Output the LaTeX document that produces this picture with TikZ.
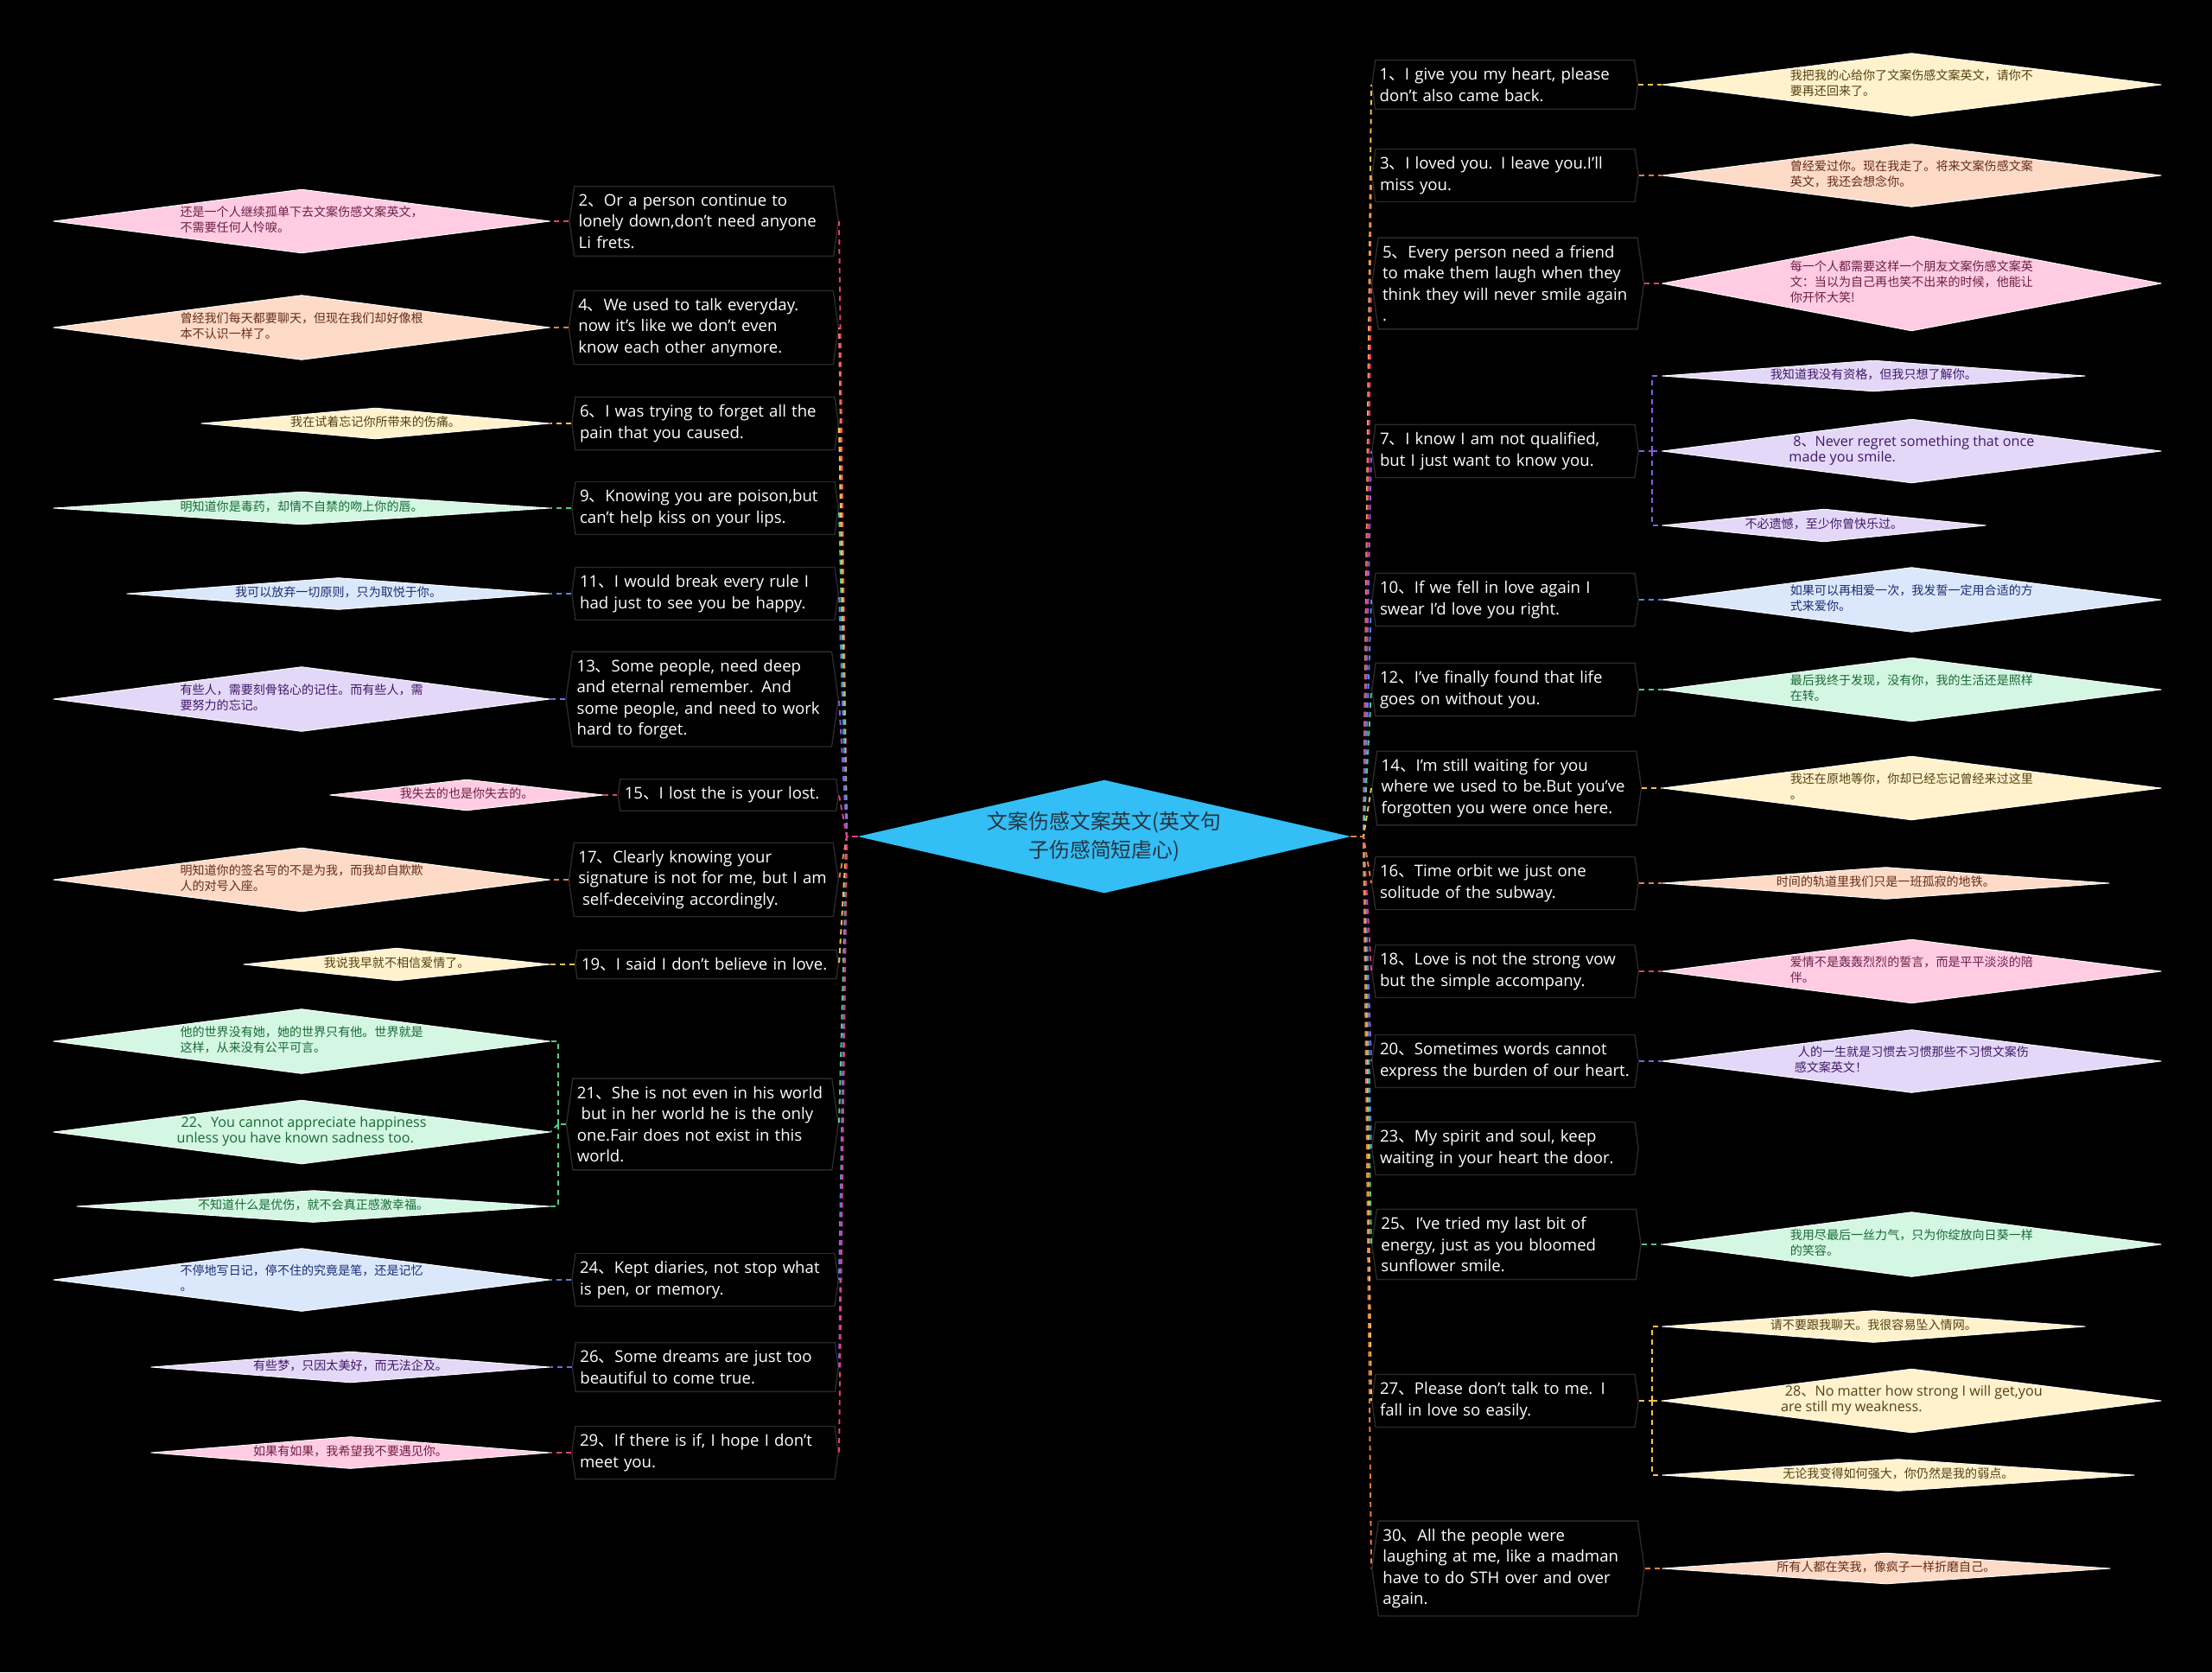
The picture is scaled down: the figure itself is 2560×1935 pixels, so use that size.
\documentclass[tikz,border=0pt]{standalone}
\usepackage{fontspec}
\setmainfont{Open Sans}
\newfontfamily\cjk{Noto Sans CJK SC}
\usetikzlibrary{shapes.geometric, shapes.symbols}
\hyphenpenalty=10000

\definecolor{rootblue}{RGB}{51,190,245}
\definecolor{roottext}{RGB}{38,52,64}
\definecolor{topicedge}{RGB}{42,42,42}
% leaf fills
\definecolor{pinkfill}{RGB}{255,204,226}
\definecolor{peachfill}{RGB}{253,219,199}
\definecolor{yellowfill}{RGB}{255,242,204}
\definecolor{mintfill}{RGB}{211,247,226}
\definecolor{bluefill}{RGB}{219,232,252}
\definecolor{purplefill}{RGB}{228,216,248}
% leaf texts
\definecolor{pinktext}{RGB}{110,30,70}
\definecolor{peachtext}{RGB}{100,45,25}
\definecolor{yellowtext}{RGB}{85,65,20}
\definecolor{minttext}{RGB}{25,105,55}
\definecolor{bluetext}{RGB}{25,45,115}
\definecolor{purpletext}{RGB}{65,25,105}
% connectors
\definecolor{pinkline}{RGB}{226,62,128}
\definecolor{peachline}{RGB}{240,125,70}
\definecolor{yellowline}{RGB}{246,196,76}
\definecolor{mintline}{RGB}{82,204,140}
\definecolor{blueline}{RGB}{82,134,226}
\definecolor{purpleline}{RGB}{140,92,226}

\newcommand{\dunhao}{{\cjk 、}}
\newcommand{\leaftext}[1]{\makebox[0pt]{\begin{tabular}{@{}l@{}}#1\end{tabular}}}

\tikzset{
  root/.style={diamond, aspect=4.4, inner sep=0pt, fill=rootblue, text=roottext, align=center,
    minimum width=11.42cm, minimum height=2.62cm, font=\cjk\fontsize{13.6}{19}\selectfont},
  topic/.style={signal, signal to=west and east, signal pointer angle=164, draw=topicedge,
    line width=0.8pt, text=white, align=left, text width=5.8cm, inner xsep=0.1cm,
    inner ysep=0.18cm, font=\fontsize{10.6}{13.9}\selectfont},
  leaf/.style={diamond, inner sep=0pt, draw=white, line width=0.5pt, line join=round,
    fill=#1fill, text=#1text, font=\cjk\fontsize{8}{10.2}\selectfont},
  latin/.style={font=\rmfamily\fontsize{9.2}{10.2}\selectfont},
  link/.style={draw=#1line, dash pattern=on 3.4pt off 2.8pt, line width=1.1pt}
}

\begin{document}
\begin{tikzpicture}[x=0.02cm, y=-0.02cm]
    \fill[black, use as bounding box] (0,0) rectangle (2560,1935);

    % Centre
    \node[root] (root) at (1278,968) {文案伤感文案英文(英文句\\子伤感简短虐心)};
    \coordinate (hubL) at (980,968);
    \coordinate (hubR) at (1578,968);

    % Left topics
    \node[topic, anchor=east] (n2) at (971,256) {2\dunhao Or a person continue to\\lonely down,don't need anyone\\Li frets.};
    \node[topic, anchor=east] (n4) at (971,379) {4\dunhao We used to talk everyday.\\now it's like we don't even\\know each other anymore.};
    \node[topic, anchor=east] (n6) at (971,490) {6\dunhao I was trying to forget all the\\pain that you caused.};
    \node[topic, anchor=east] (n9) at (971,588) {9\dunhao Knowing you are poison,but\\can't help kiss on your lips.};
    \node[topic, anchor=east] (n11) at (971,687) {11\dunhao I would break every rule I\\had just to see you be happy.};
    \node[topic, anchor=east] (n13) at (971,809) {13\dunhao Some people, need deep\\and eternal remember. And\\some people, and need to work\\hard to forget.};
    \node[topic, anchor=east, text width=4.8cm] (n15) at (971,920) {15\dunhao I lost the is your lost.};
    \node[topic, anchor=east] (n17) at (971,1018) {17\dunhao Clearly knowing your\\signature is not for me, but I am\\\hspace*{.25em}self-deceiving accordingly.};
    \node[topic, anchor=east] (n19) at (971,1116) {19\dunhao I said I don't believe in love.};
    \node[topic, anchor=east] (n21) at (971,1301) {21\dunhao She is not even in his world\\\hspace*{.25em}but in her world he is the only\\one.Fair does not exist in this\\world.};
    \node[topic, anchor=east] (n24) at (971,1481) {24\dunhao Kept diaries, not stop what\\is pen, or memory.};
    \node[topic, anchor=east] (n26) at (971,1582) {26\dunhao Some dreams are just too\\beautiful to come true.};
    \node[topic, anchor=east] (n29) at (971,1681) {29\dunhao If there is if, I hope I don't\\meet you.};

    % Left leaves
    \node[leaf=pink, anchor=east, minimum width=11.5cm, minimum height=1.48cm] (d2) at (637,256) {\leaftext{还是一个人继续孤单下去文案伤感文案英文，\\不需要任何人怜唳。}};
    \node[leaf=peach, anchor=east, minimum width=11.5cm, minimum height=1.5cm] (d4) at (637,379) {\leaftext{曾经我们每天都要聊天，但现在我们却好像根\\本不认识一样了。}};
    \node[leaf=yellow, anchor=east, minimum width=8.08cm, minimum height=0.72cm] (d6) at (637,490) {\leaftext{我在试着忘记你所带来的伤痛。}};
    \node[leaf=mint, anchor=east, minimum width=11.5cm, minimum height=0.76cm] (d9) at (637,588) {\leaftext{明知道你是毒药，却情不自禁的吻上你的唇。}};
    \node[leaf=blue, anchor=east, minimum width=9.8cm, minimum height=0.74cm] (d11) at (637,687) {\leaftext{我可以放弃一切原则，只为取悦于你。}};
    \node[leaf=purple, anchor=east, minimum width=11.5cm, minimum height=1.5cm] (d13) at (637,809) {\leaftext{有些人，需要刻骨铭心的记住。而有些人，需\\要努力的忘记。}};
    \node[leaf=pink, anchor=east, minimum width=6.34cm, minimum height=0.72cm] (d15) at (699,920) {\leaftext{我失去的也是你失去的。}};
    \node[leaf=peach, anchor=east, minimum width=11.5cm, minimum height=1.48cm] (d17) at (637,1018) {\leaftext{明知道你的签名写的不是为我，而我却自欺欺\\人的对号入座。}};
    \node[leaf=yellow, anchor=east, minimum width=7.1cm, minimum height=0.76cm] (d19) at (637,1116) {\leaftext{我说我早就不相信爱情了。}};
    \node[leaf=mint, anchor=east, minimum width=11.5cm, minimum height=1.5cm] (d21a) at (637,1205) {\leaftext{他的世界没有她，她的世界只有他。世界就是\\这样，从来没有公平可言。}};
    \node[leaf=mint, latin, anchor=east, minimum width=11.5cm, minimum height=1.48cm] (d21b) at (637,1310) {\leaftext{\hspace*{.3em}22\dunhao You cannot appreciate happiness\\unless you have known sadness too.}};
    \node[leaf=mint, anchor=east, minimum width=10.96cm, minimum height=0.74cm] (d21c) at (637,1396) {\leaftext{不知道什么是优伤，就不会真正感激幸福。}};
    \node[leaf=blue, anchor=east, minimum width=11.5cm, minimum height=1.46cm] (d24) at (637,1481) {\leaftext{不停地写日记，停不住的究竟是笔，还是记忆\\。}};
    \node[leaf=purple, anchor=east, minimum width=9.24cm, minimum height=0.72cm] (d26) at (637,1582) {\leaftext{有些梦，只因太美好，而无法企及。}};
    \node[leaf=pink, anchor=east, minimum width=9.24cm, minimum height=0.74cm] (d29) at (637,1681) {\leaftext{如果有如果，我希望我不要遇见你。}};
    \coordinate (j21) at (646,1301);

    % Right topics
    \node[topic, anchor=west] (r1) at (1587,98) {1\dunhao I give you my heart, please\\don't also came back.};
    \node[topic, anchor=west] (r3) at (1587,203) {3\dunhao I loved you. I leave you.I'll\\miss you.};
    \node[topic, anchor=west] (r5) at (1587,328) {5\dunhao Every person need a friend\\to make them laugh when they\\think they will never smile again\\.};
    \node[topic, anchor=west] (r7) at (1587,522) {7\dunhao I know I am not qualified,\\but I just want to know you.};
    \node[topic, anchor=west] (r10) at (1587,694) {10\dunhao If we fell in love again I\\swear I'd love you right.};
    \node[topic, anchor=west] (r12) at (1587,798) {12\dunhao I've finally found that life\\goes on without you.};
    \node[topic, anchor=west] (r14) at (1587,912) {14\dunhao I'm still waiting for you\\where we used to be.But you've\\forgotten you were once here.};
    \node[topic, anchor=west] (r16) at (1587,1022) {16\dunhao Time orbit we just one\\solitude of the subway.};
    \node[topic, anchor=west] (r18) at (1587,1124) {18\dunhao Love is not the strong vow\\but the simple accompany.};
    \node[topic, anchor=west] (r20) at (1587,1228) {20\dunhao Sometimes words cannot\\express the burden of our heart.};
    \node[topic, anchor=west] (r23) at (1587,1329) {23\dunhao My spirit and soul, keep\\waiting in your heart the door.};
    \node[topic, anchor=west] (r25) at (1587,1440) {25\dunhao I've tried my last bit of\\energy, just as you bloomed\\sunflower smile.};
    \node[topic, anchor=west] (r27) at (1587,1621) {27\dunhao Please don't talk to me. I\\fall in love so easily.};
    \node[topic, anchor=west] (r30) at (1587,1815) {30\dunhao All the people were\\laughing at me, like a madman\\have to do STH over and over\\again.};

    % Right leaves
    \node[leaf=yellow, anchor=west, minimum width=11.56cm, minimum height=1.46cm] (e1) at (1923,98) {\leaftext{我把我的心给你了文案伤感文案英文，请你不\\要再还回来了。}};
    \node[leaf=peach, anchor=west, minimum width=11.56cm, minimum height=1.46cm] (e3) at (1923,203) {\leaftext{曾经爱过你。现在我走了。将来文案伤感文案\\英文，我还会想念你。}};
    \node[leaf=pink, anchor=west, minimum width=11.56cm, minimum height=2.2cm] (e5) at (1923,328) {\leaftext{每一个人都需要这样一个朋友文案伤感文案英\\文：当以为自己再也笑不出来的时候，他能让\\你开怀大笑!}};
    \node[leaf=purple, anchor=west, minimum width=9.8cm, minimum height=0.72cm] (e7a) at (1923,435) {\leaftext{我知道我没有资格，但我只想了解你。}};
    \node[leaf=purple, latin, anchor=west, minimum width=11.56cm, minimum height=1.48cm] (e7b) at (1923,522) {\leaftext{\hspace*{.3em}8\dunhao Never regret something that once\\made you smile.}};
    \node[leaf=purple, anchor=west, minimum width=7.5cm, minimum height=0.76cm] (e7c) at (1923,608) {\leaftext{不必遗憾，至少你曾快乐过。}};
    \node[leaf=blue, anchor=west, minimum width=11.56cm, minimum height=1.5cm] (e10) at (1923,694) {\leaftext{如果可以再相爱一次，我发誓一定用合适的方\\式来爱你。}};
    \node[leaf=mint, anchor=west, minimum width=11.56cm, minimum height=1.48cm] (e12) at (1923,798) {\leaftext{最后我终于发现，没有你，我的生活还是照样\\在转。}};
    \node[leaf=yellow, anchor=west, minimum width=11.56cm, minimum height=1.48cm] (e14) at (1923,912) {\leaftext{我还在原地等你，你却已经忘记曾经来过这里\\。}};
    \node[leaf=peach, anchor=west, minimum width=10.36cm, minimum height=0.74cm] (e16) at (1923,1022) {\leaftext{时间的轨道里我们只是一班孤寂的地铁。}};
    \node[leaf=pink, anchor=west, minimum width=11.56cm, minimum height=1.48cm] (e18) at (1923,1124) {\leaftext{爱情不是轰轰烈烈的誓言，而是平平淡淡的陪\\伴。}};
    \node[leaf=purple, anchor=west, minimum width=11.56cm, minimum height=1.46cm] (e20) at (1923,1228) {\leaftext{\hspace*{.3em}人的一生就是习惯去习惯那些不习惯文案伤\\感文案英文！}};
    \node[leaf=mint, anchor=west, minimum width=11.56cm, minimum height=1.5cm] (e25) at (1923,1440) {\leaftext{我用尽最后一丝力气，只为你绽放向日葵一样\\的笑容。}};
    \node[leaf=yellow, anchor=west, minimum width=9.8cm, minimum height=0.74cm] (e27a) at (1923,1535) {\leaftext{请不要跟我聊天。我很容易坠入情网。}};
    \node[leaf=yellow, latin, anchor=west, minimum width=11.56cm, minimum height=1.48cm] (e27b) at (1923,1621) {\leaftext{\hspace*{.3em}28\dunhao No matter how strong I will get,you\\are still my weakness.}};
    \node[leaf=yellow, anchor=west, minimum width=10.94cm, minimum height=0.74cm] (e27c) at (1923,1707) {\leaftext{无论我变得如何强大，你仍然是我的弱点。}};
    \node[leaf=peach, anchor=west, minimum width=10.38cm, minimum height=0.72cm] (e30) at (1923,1815) {\leaftext{所有人都在笑我，像疯子一样折磨自己。}};
    \coordinate (j7) at (1912,522);
    \coordinate (j27) at (1912,1621);

    % Centre to left topics
    \draw[link=pink] (root.west) -- (hubL) -- (n2.east);
    \draw[link=peach] (root.west) -- (hubL) -- (n4.east);
    \draw[link=yellow] (root.west) -- (hubL) -- (n6.east);
    \draw[link=mint] (root.west) -- (hubL) -- (n9.east);
    \draw[link=blue] (root.west) -- (hubL) -- (n11.east);
    \draw[link=purple] (root.west) -- (hubL) -- (n13.east);
    \draw[link=peach] (root.west) -- (hubL) -- (n17.east);
    \draw[link=yellow] (root.west) -- (hubL) -- (n19.east);
    \draw[link=mint] (root.west) -- (hubL) -- (n21.east);
    \draw[link=blue] (root.west) -- (hubL) -- (n24.east);
    \draw[link=purple] (root.west) -- (hubL) -- (n26.east);
    \draw[link=pink] (root.west) -- (hubL) -- (n29.east);
    \draw[link=pink] (root.west) -- (hubL) -- (n15.east);

    % Left topics to leaves
    \draw[link=pink] (n2.west) -- (d2.east);
    \draw[link=peach] (n4.west) -- (d4.east);
    \draw[link=yellow] (n6.west) -- (d6.east);
    \draw[link=mint] (n9.west) -- (d9.east);
    \draw[link=blue] (n11.west) -- (d11.east);
    \draw[link=purple] (n13.west) -- (d13.east);
    \draw[link=pink] (n15.west) -- (d15.east);
    \draw[link=peach] (n17.west) -- (d17.east);
    \draw[link=yellow] (n19.west) -- (d19.east);
    \draw[link=mint] (n21.west) -- (j21);
    \draw[link=mint] (j21) |- (d21a.east);
    \draw[link=mint] (j21) -- (d21b.east);
    \draw[link=mint] (j21) |- (d21c.east);
    \draw[link=blue] (n24.west) -- (d24.east);
    \draw[link=purple] (n26.west) -- (d26.east);
    \draw[link=pink] (n29.west) -- (d29.east);

    % Centre to right topics
    \draw[link=yellow] (root.east) -- (hubR) -- (r1.west);
    \draw[link=peach] (root.east) -- (hubR) -- (r3.west);
    \draw[link=pink] (root.east) -- (hubR) -- (r5.west);
    \draw[link=purple] (root.east) -- (hubR) -- (r7.west);
    \draw[link=blue] (root.east) -- (hubR) -- (r10.west);
    \draw[link=mint] (root.east) -- (hubR) -- (r12.west);
    \draw[link=yellow] (root.east) -- (hubR) -- (r14.west);
    \draw[link=pink] (root.east) -- (hubR) -- (r18.west);
    \draw[link=purple] (root.east) -- (hubR) -- (r20.west);
    \draw[link=blue] (root.east) -- (hubR) -- (r23.west);
    \draw[link=mint] (root.east) -- (hubR) -- (r25.west);
    \draw[link=yellow] (root.east) -- (hubR) -- (r27.west);
    \draw[link=peach] (root.east) -- (hubR) -- (r30.west);
    \draw[link=peach] (root.east) -- (hubR) -- (r16.west);

    % Right topics to leaves
    \draw[link=yellow] (r1.east) -- (e1.west);
    \draw[link=peach] (r3.east) -- (e3.west);
    \draw[link=pink] (r5.east) -- (e5.west);
    \draw[link=purple] (r7.east) -- (j7);
    \draw[link=purple] (j7) |- (e7a.west);
    \draw[link=purple] (j7) -- (e7b.west);
    \draw[link=purple] (j7) |- (e7c.west);
    \draw[link=blue] (r10.east) -- (e10.west);
    \draw[link=mint] (r12.east) -- (e12.west);
    \draw[link=yellow] (r14.east) -- (e14.west);
    \draw[link=peach] (r16.east) -- (e16.west);
    \draw[link=pink] (r18.east) -- (e18.west);
    \draw[link=purple] (r20.east) -- (e20.west);
    \draw[link=mint] (r25.east) -- (e25.west);
    \draw[link=yellow] (r27.east) -- (j27);
    \draw[link=yellow] (j27) |- (e27a.west);
    \draw[link=yellow] (j27) -- (e27b.west);
    \draw[link=yellow] (j27) |- (e27c.west);
    \draw[link=peach] (r30.east) -- (e30.west);
\end{tikzpicture}
\end{document}
